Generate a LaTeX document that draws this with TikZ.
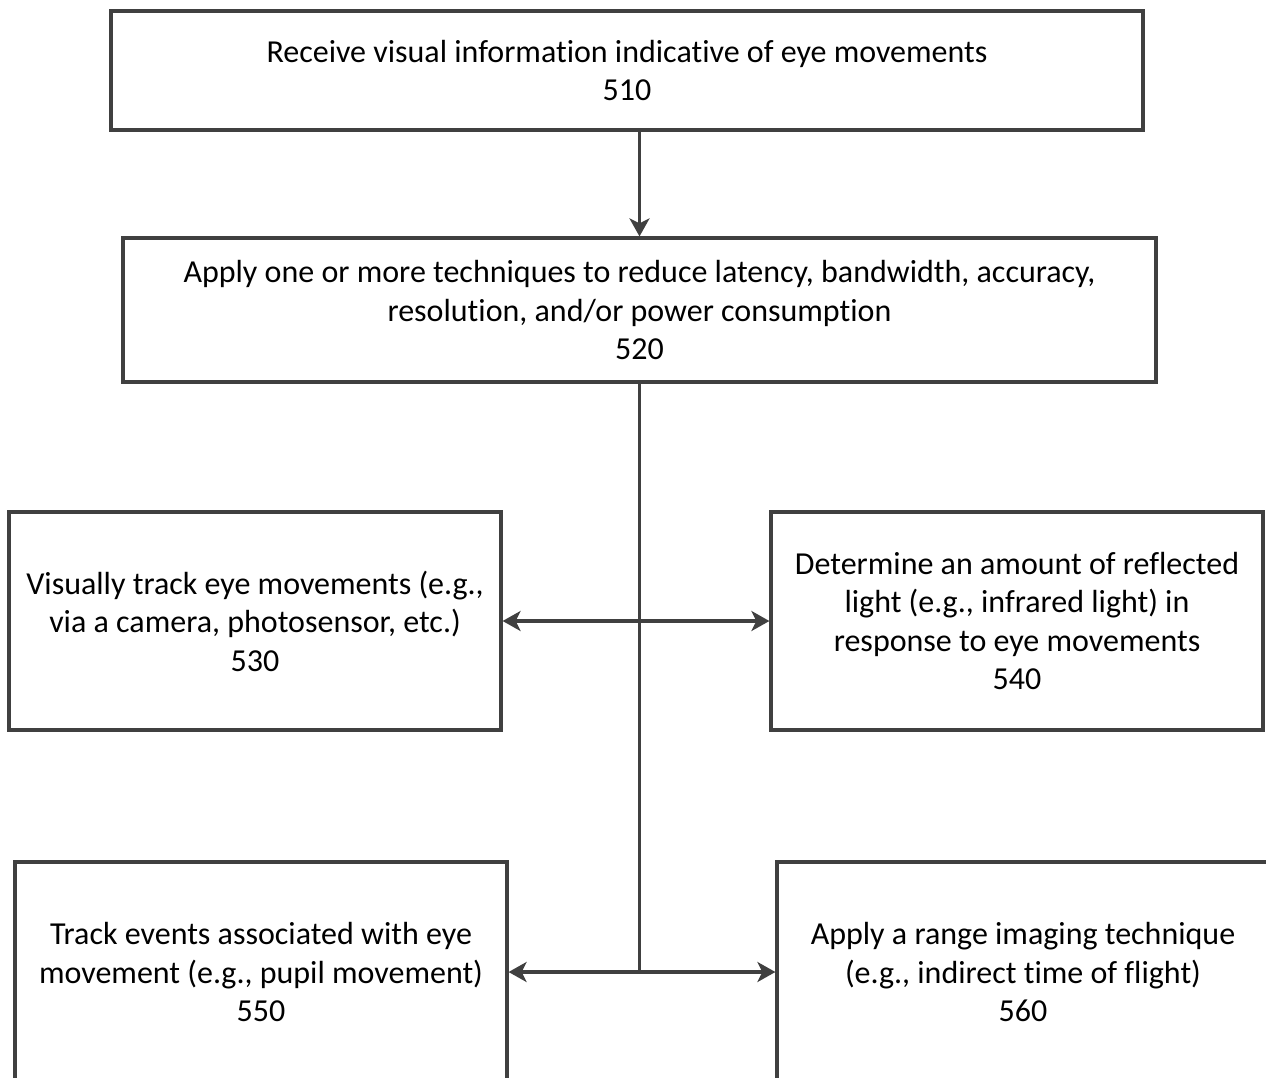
\documentclass[tikz,border=0pt]{standalone}
\usepackage{fontspec}
\setmainfont[Ligatures=NoCommon]{Carlito}
\usetikzlibrary{arrows.meta,calc}
\definecolor{linegray}{HTML}{404040}
\begin{document}
\begin{tikzpicture}[x=1pt,y=-1pt,
  stepbox/.style={draw=linegray,line width=3.2pt,fill=white,align=center,
    inner sep=0pt,font=\fontsize{32}{38.5}\selectfont,text=black},
  tip/.style={Stealth[length=18pt,width=20pt,inset=5pt]},
  arr/.style={draw=linegray,line width=3.2pt,-{Stealth[length=18pt,width=20pt,inset=5pt]}},
  dblarr/.style={draw=linegray,line width=3.2pt,
    {Stealth[length=18pt,width=20pt,inset=5pt]}-{Stealth[length=18pt,width=20pt,inset=5pt]}},
  link/.style={draw=linegray,line width=3.2pt}]
\useasboundingbox[clip] (0,0) rectangle (1266,1077);
\fill[white] (0,0) rectangle (1266,1077);

\node[stepbox,minimum width=1032pt,minimum height=119pt] (b510) at (627,70.5)
  {Receive visual information indicative of eye movements\\510};
\node[stepbox,minimum width=1033pt,minimum height=144pt] (b520) at (639.5,310)
  {Apply one or more techniques to reduce latency, bandwidth, accuracy,\\resolution, and/or power consumption\\520};
\node[stepbox,minimum width=492pt,minimum height=218pt] (b530) at (255,621)
  {Visually track eye movements (e.g.,\\via a camera, photosensor, etc.)\\530};
\node[stepbox,minimum width=492pt,minimum height=218pt] (b540) at (1017,621)
  {Determine an amount of reflected\\light (e.g., infrared light) in\\response to eye movements\\540};
\node[stepbox,minimum width=492pt,minimum height=220pt] (b550) at (261,972)
  {Track events associated with eye\\movement (e.g., pupil movement)\\550};
\node[stepbox,minimum width=492pt,minimum height=220pt] (b560) at (1023,972)
  {Apply a range imaging technique\\(e.g., indirect time of flight)\\560};

\coordinate (j1) at (b520.south |- b530.east);
\coordinate (j2) at (b520.south |- b550.east);

\draw[arr] (b520.north |- b510.south) -- (b520.north);
\draw[link] (b520.south) -- (j2);
\draw[dblarr] (b530.east) -- (b540.west);
\draw[dblarr] (b550.east) -- (b560.west);
\end{tikzpicture}
\end{document}
